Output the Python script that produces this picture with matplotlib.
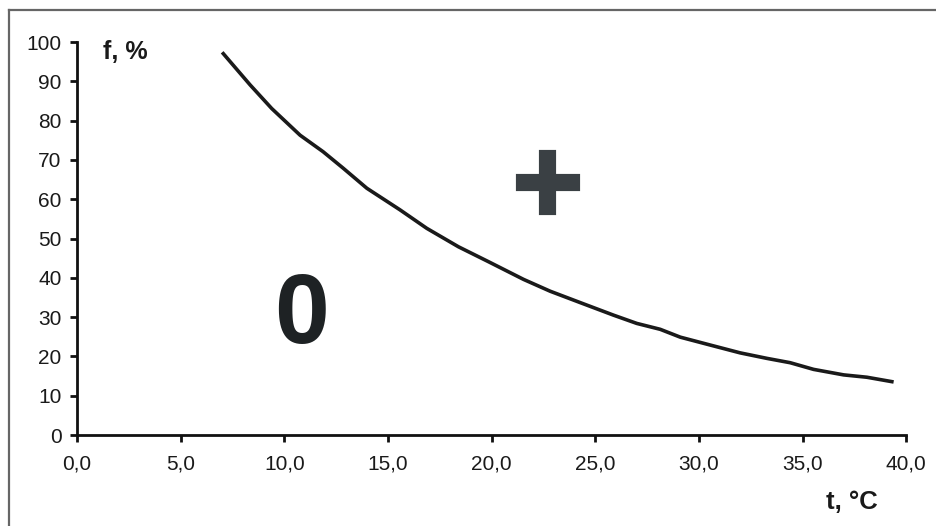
import numpy as np
import matplotlib
matplotlib.use("Agg")
from matplotlib import pyplot as plt
from matplotlib.lines import Line2D
import matplotlib.patheffects as pe

plt.rcParams['font.family'] = ['Liberation Sans', 'DejaVu Sans']

# curve (t in °C, f in %)
t = [7.0, 8.35, 9.39, 10.76, 11.87, 12.84, 13.98, 15.58, 16.87, 18.4, 19.85,
     21.54, 22.82, 24.27, 25.88, 27.0, 28.13, 29.1, 30.54, 31.99, 33.28,
     34.4, 35.53, 36.98, 38.1, 39.39]
f = [97.4, 89.1, 83.1, 76.3, 72.1, 67.9, 62.8, 57.3, 52.6, 47.9, 44.1,
     39.6, 36.6, 33.7, 30.5, 28.4, 26.9, 24.9, 22.9, 20.9, 19.5,
     18.4, 16.7, 15.3, 14.7, 13.5]

xticks = [0, 5, 10, 15, 20, 25, 30, 35, 40]
yticks = [0, 10, 20, 30, 40, 50, 60, 70, 80, 90, 100]

fig = plt.figure(figsize=(9.37, 5.26), dpi=100)
ax = fig.add_axes([0.0822, 0.173, 0.885, 0.747])

ax.plot(t, f, color='#1a1a1a', lw=2.6, solid_capstyle='butt')

ax.set_xlim(0, 40)
ax.set_ylim(0, 100)
ax.set_xticks(xticks)
ax.set_xticklabels([f"{v:.1f}".replace('.', ',') for v in xticks])
ax.set_yticks(yticks)
ax.set_yticklabels([str(v) for v in yticks])

for s in ['top', 'right']:
    ax.spines[s].set_visible(False)
for s in ['left', 'bottom']:
    ax.spines[s].set_linewidth(2)
    ax.spines[s].set_color('#111111')
    ax.spines[s].set_clip_on(False)

ax.tick_params(direction='out', length=5, width=2, color='#111111',
               labelsize=15, labelcolor='#1a1a1a', pad=6)
ax.tick_params(axis='x', pad=9)

ax.text(1.25, 97.5, 'f, %', fontsize=18, fontweight='bold', color='#1a1a1a',
        ha='left', va='center')
ax.text(36.15, -17.0, 't, °C', fontsize=18.5, fontweight='bold', color='#1a1a1a',
        ha='left', va='center', clip_on=False)

ax.text(10.84, 29.8, '0', fontsize=71, fontweight='bold', color='#1e2224',
        ha='center', va='center')
ax.text(22.71, 62.0, '+', fontsize=86, fontweight='bold', color='#3a4044',
        ha='center', va='center',
        path_effects=[pe.withStroke(linewidth=3, foreground='#3a4044',
                                    joinstyle='miter', capstyle='projecting')])

# outer frame (only left and top edges show in the reference)
fig.add_artist(Line2D([0.0095, 0.0095], [0.0, 0.981], transform=fig.transFigure,
                      color='#666666', lw=1.6))
fig.add_artist(Line2D([0.0095, 1.0], [0.981, 0.981], transform=fig.transFigure,
                      color='#666666', lw=1.6))

fig.savefig('out.png', dpi=100)
